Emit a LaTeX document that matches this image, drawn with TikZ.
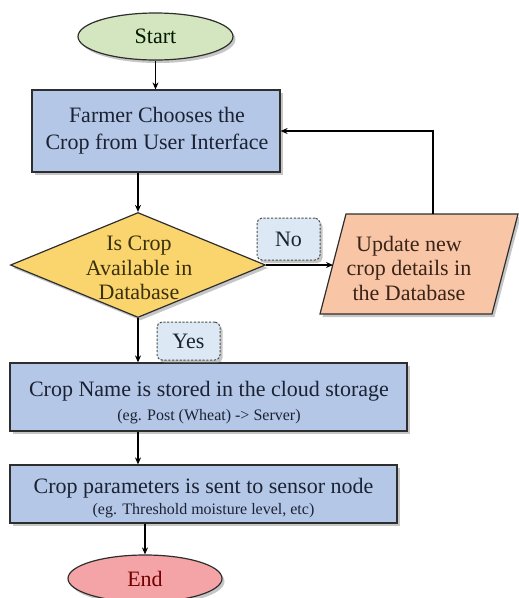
\documentclass[tikz,border=0pt]{standalone}
\usepackage{fontspec}
\setmainfont{Liberation Serif}
\usetikzlibrary{shapes.geometric,arrows.meta,shadows}

\definecolor{startfill}{HTML}{D3E6BF}
\definecolor{procfill}{HTML}{B4C7E7}
\definecolor{decfill}{HTML}{FAD56E}
\definecolor{iofill}{HTML}{F8C6A6}
\definecolor{endfill}{HTML}{F4A3A6}
\definecolor{tagfill}{HTML}{DCE8F4}
\definecolor{edge}{HTML}{2E2E2E}
\definecolor{ink}{HTML}{1B2233}
\definecolor{decink}{HTML}{3A300C}
\definecolor{ioink}{HTML}{3A2418}

\tikzset{
  x=1pt, y=-1pt,
  shade/.style={drop shadow={shadow xshift=2.5pt, shadow yshift=-3pt, opacity=0.45, fill=gray}},
  base/.style={draw=edge, line width=1.2pt, shade},
  terminal/.style={base, ellipse, inner sep=0pt},
  procbox/.style={base, rectangle, fill=procfill, inner sep=0pt},
  decision/.style={base, diamond, fill=decfill, inner sep=0pt},
  iobox/.style={base, fill=iofill, line join=miter},
  tag/.style={draw=edge!85, fill=tagfill, dashed, dash pattern=on 2.2pt off 1.6pt,
    line width=1pt, rounded corners=5pt, inner sep=0pt, shade,
    font=\fontsize{22}{26}\selectfont, text=ink},
  bigtxt/.style={font=\fontsize{22}{27}\selectfont, align=center, text=ink},
  tighttxt/.style={font=\fontsize{22}{24.5}\selectfont, align=center},
  smalltxt/.style={font=\fontsize{16}{19}\selectfont, text=ink},
  arr/.style={draw=black, line width=1.4pt, -{Stealth[length=7pt,width=6pt]}},
}

\begin{document}
\begin{tikzpicture}
  \useasboundingbox (0,0) rectangle (519,598);

  % terminals
  \node[terminal, fill=startfill, minimum width=155, minimum height=47,
        font=\fontsize{22}{26}\selectfont, text={black!75!green!40!black}]
        (start) at (155.5,36.5) {Start};
  \node[terminal, fill=endfill, minimum width=154, minimum height=47,
        font=\fontsize{22}{26}\selectfont, text={red!45!black}]
        (stop) at (145,578.5) {End};

  % process boxes
  \node[procbox, minimum width=248, minimum height=82] (choose) at (156,131) {};
  \node[bigtxt] (choosetxt) at (157,131) {Farmer Chooses the\\Crop from User Interface};

  \node[procbox, minimum width=397, minimum height=68] (store) at (208.5,397) {};
  \node[bigtxt, anchor=base] (storetxt) at (209,396) {Crop Name is stored in the cloud storage};
  \node[smalltxt, anchor=base] (storesub) at (209,420) {(eg. Post (Wheat) -> Server)};

  \node[procbox, minimum width=387, minimum height=58] (send) at (203.5,494) {};
  \node[bigtxt, anchor=base] (sendtxt) at (203.5,493) {Crop parameters is sent to sensor node};
  \node[smalltxt, anchor=base] (sendsub) at (203.5,514) {(eg. Threshold moisture level, etc)};

  % decision
  \node[decision, minimum width=255, minimum height=105] (avail) at (138,265) {};
  \node[tighttxt, text=decink] (availtxt) at (139,268) {Is Crop\\Available in\\Database};

  % input / output parallelogram
  \coordinate (upd-tl) at (346,214);
  \coordinate (upd-tr) at (518,214);
  \coordinate (upd-br) at (492,314);
  \coordinate (upd-bl) at (320,314);
  \coordinate (upd-in) at (333,265);
  \coordinate (upd-top) at (433,214);
  \path[iobox] (upd-tl) -- (upd-tr) -- (upd-br) -- (upd-bl) -- cycle;
  \node[tighttxt, text=ioink] (updatetxt) at (409,268) {Update new\\crop details in\\the Database};

  % branch tags
  \node[tag, minimum width=63, minimum height=42] (no) at (288.5,239) {No};
  \node[tag, minimum width=63, minimum height=38] (yes) at (188.5,341) {Yes};

  % connectors
  \draw[arr] (start) -- (choose.north -| start);
  \draw[arr] (choose.south -| avail.north) -- (avail.north);
  \draw[arr] (avail.east) -- (upd-in);
  \draw[arr] (upd-top) |- (choose.east);
  \draw[arr] (avail.south) -- (store.north -| avail.south);
  \draw[arr] (store.south -| avail.south) -- (send.north -| avail.south);
  \draw[arr] (send.south -| stop.north) -- (stop.north);
\end{tikzpicture}
\end{document}
